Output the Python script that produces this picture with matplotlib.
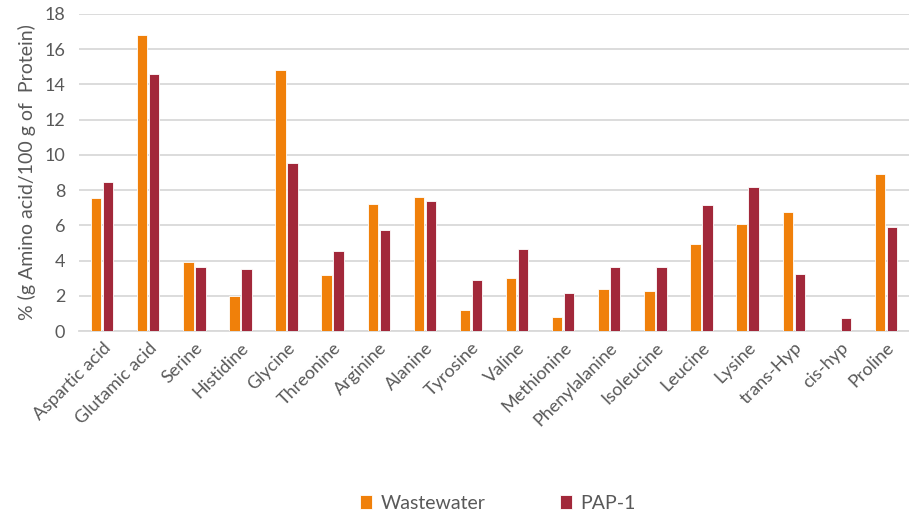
import numpy as np
import matplotlib.pyplot as plt

plt.rcParams['font.family'] = ['Lato', 'DejaVu Sans']

amino_acids = ['Aspartic acid', 'Glutamic acid', 'Serine', 'Histidine', 'Glycine',
               'Threonine', 'Arginine', 'Alanine', 'Tyrosine', 'Valine', 'Methionine',
               'Phenylalanine', 'Isoleucine', 'Leucine', 'Lysine', 'trans-Hyp',
               'cis-hyp', 'Proline']
wastewater = [7.55, 16.8, 3.92, 2.0, 14.82, 3.17, 7.22, 7.62, 1.22, 3.03, 0.8,
              2.37, 2.3, 4.97, 6.08, 6.75, 0.0, 8.93]
pap1 = [8.45, 14.6, 3.62, 3.5, 9.52, 4.57, 5.76, 7.37, 2.88, 4.64, 2.16,
        3.66, 3.66, 7.15, 8.19, 3.24, 0.76, 5.9]

c_ww = '#F0800A'
c_pap = '#A2283A'
grey = '#595959'

fig = plt.figure(figsize=(9.09, 5.11), dpi=100)
ax = fig.add_axes([0.087, 0.352, 0.913, 0.621])

x = np.arange(len(amino_acids))
w = 0.225
gap = 0.035
ax.bar(x - (w + gap) / 2, wastewater, width=w, color=c_ww, edgecolor='white',
       linewidth=0.6, label='Wastewater', zorder=3)
ax.bar(x + (w + gap) / 2, pap1, width=w, color=c_pap, edgecolor='white',
       linewidth=0.6, label='PAP-1', zorder=3)

ax.set_xlim(-0.5, len(amino_acids) - 0.5)
ax.set_ylim(0, 18)
ax.set_yticks(range(0, 19, 2))
ax.yaxis.grid(True, color='#D9D9D9', linewidth=1.3, zorder=0)
ax.set_axisbelow(True)

for s in ['top', 'right', 'left']:
    ax.spines[s].set_visible(False)
ax.spines['bottom'].set_color('#D9D9D9')
ax.spines['bottom'].set_linewidth(1.3)

ax.tick_params(axis='both', length=0, colors=grey, labelsize=13)
ax.tick_params(axis='y', pad=10)
ax.set_xticks(x)
ax.set_xticklabels(amino_acids, rotation=45, ha='right', rotation_mode='anchor')
ax.tick_params(axis='x', pad=6)

ax.set_ylabel('% (g Amino acid/100 g of  Protein)', color=grey, fontsize=14, labelpad=6)

fig.legend(loc='lower center', bbox_to_anchor=(0.548, -0.036), ncol=2, frameon=False,
           fontsize=14, labelcolor=grey, handlelength=0.62, handleheight=0.72,
           columnspacing=3.8, handletextpad=0.45)

fig.savefig('out.png', dpi=100)
